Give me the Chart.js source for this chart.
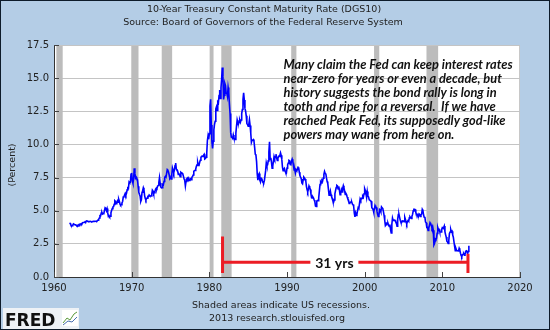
<!DOCTYPE html>
<html>
<head>
<meta charset="utf-8">
<title>10-Year Treasury Constant Maturity Rate</title>
<script src="https://cdn.jsdelivr.net/npm/chart.js@4.4.1/dist/chart.umd.min.js"></script>
<style>
  html, body { margin: 0; padding: 0; background: #b4cde6; }
  canvas { display: block; }
</style>
</head>
<body>
<canvas id="dgs10" width="550" height="330"></canvas>
<script>
// monthly 10-year yields, each array starts in January of its first year
const firstYear = 1962;
const rates1960s = [ // 1962-1969
  4.08,4.04,3.93,3.84,3.87,3.91,4.01,3.98,3.98,3.93,3.92,3.86,
  3.83,3.92,3.93,3.97,3.93,3.99,4.02,4.00,4.08,4.11,4.12,4.13,
  4.17,4.15,4.22,4.23,4.20,4.17,4.19,4.19,4.20,4.19,4.15,4.18,
  4.19,4.21,4.21,4.20,4.21,4.21,4.20,4.25,4.29,4.35,4.45,4.62,
  4.61,4.83,4.87,4.75,4.78,4.81,5.02,5.22,5.18,5.01,5.16,4.84,
  4.58,4.63,4.54,4.59,4.85,5.02,5.16,5.28,5.30,5.48,5.75,5.70,
  5.53,5.56,5.74,5.64,5.87,5.72,5.50,5.42,5.46,5.58,5.70,6.03,
  6.04,6.19,6.30,6.17,6.32,6.57,6.72,6.69,7.16,7.10,7.14,7.75
];
const rates1970s = [
  7.85,7.24,7.07,7.39,8.20,7.84,7.46,7.53,7.39,7.33,6.84,6.39,
  6.24,6.11,5.70,5.83,6.39,6.52,6.73,6.58,6.14,5.93,5.81,5.93,
  5.95,6.08,6.07,6.19,6.13,6.11,6.11,6.21,6.55,6.48,6.28,6.36,
  6.46,6.64,6.71,6.67,6.85,6.90,7.13,7.50,7.09,6.79,6.73,6.74,
  6.99,6.96,7.21,7.51,7.58,7.54,7.81,8.10,8.04,7.90,7.68,7.43,
  7.50,7.39,7.73,8.23,8.06,7.86,8.06,8.40,8.60,8.14,8.05,8.00,
  7.74,7.79,7.73,7.56,7.90,7.86,7.83,7.77,7.59,7.41,7.29,6.87,
  7.21,7.39,7.46,7.37,7.46,7.28,7.33,7.40,7.34,7.52,7.58,7.69,
  7.96,8.03,8.04,8.15,8.35,8.46,8.64,8.41,8.42,8.64,8.81,9.01,
  9.10,9.10,9.12,9.18,9.25,8.91,8.95,9.03,9.33,10.30,10.65,10.39
];
const rates1980s = [
  10.80,12.90,13.40,11.47,10.18,9.70,10.25,11.10,11.51,11.75,12.68,12.84,
  12.57,13.19,13.12,13.68,14.10,13.47,14.28,14.94,15.80,15.15,13.39,13.72,
  14.59,14.43,13.86,13.87,13.62,14.30,13.95,13.06,12.34,10.91,10.55,10.54,
  10.46,10.72,10.51,10.40,10.38,10.85,11.38,11.85,11.65,11.54,11.69,11.83,
  11.67,11.84,12.32,12.63,13.41,13.90,13.36,12.72,12.52,12.16,11.57,11.50,
  11.38,11.51,11.86,11.43,10.85,10.16,10.31,10.33,10.37,10.24,9.78,9.26,
  9.19,8.70,7.78,7.30,7.71,7.80,7.30,7.17,7.45,7.43,7.25,7.11,
  7.08,7.25,7.25,8.02,8.61,8.40,8.45,8.76,9.42,10.20,8.86,8.99,
  8.67,8.21,8.37,8.72,9.09,8.92,9.06,9.26,8.98,8.80,8.96,9.11,
  9.09,9.17,9.36,9.18,8.86,8.28,8.02,8.11,8.19,8.01,7.87,7.84
];
const rates1990s = [
  8.21,8.47,8.59,8.79,8.76,8.48,8.47,8.75,8.89,8.72,8.39,8.08,
  8.09,7.85,8.11,8.04,8.07,8.28,8.27,7.90,7.65,7.53,7.42,7.09,
  7.03,7.34,7.54,7.48,7.39,7.26,6.84,6.59,6.42,6.59,6.87,6.77,
  6.60,6.26,5.98,5.97,6.04,5.96,5.81,5.68,5.36,5.33,5.72,5.77,
  5.75,5.97,6.48,6.97,7.18,7.10,7.30,7.24,7.46,7.74,7.96,7.81,
  7.78,7.47,7.20,7.06,6.63,6.17,6.28,6.49,6.20,6.04,5.93,5.71,
  5.65,5.81,6.27,6.51,6.74,6.91,6.87,6.64,6.83,6.53,6.20,6.30,
  6.58,6.42,6.69,6.89,6.71,6.49,6.22,6.30,6.21,6.03,5.88,5.81,
  5.54,5.57,5.65,5.64,5.65,5.50,5.46,5.34,4.81,4.53,4.83,4.65,
  4.72,5.00,5.23,5.18,5.54,5.90,5.79,5.94,5.92,6.11,6.03,6.28
];
const rates2000s = [
  6.66,6.52,6.26,5.99,6.44,6.10,6.05,5.83,5.80,5.74,5.72,5.24,
  5.16,5.10,4.89,5.14,5.39,5.28,5.24,4.97,4.73,4.57,4.65,5.09,
  5.04,4.91,5.28,5.21,5.16,4.93,4.65,4.26,3.87,3.94,4.05,4.03,
  4.05,3.90,3.81,3.96,3.57,3.33,3.98,4.45,4.27,4.29,4.30,4.27,
  4.15,4.08,3.83,4.35,4.72,4.73,4.50,4.28,4.13,4.10,4.19,4.23,
  4.22,4.17,4.50,4.34,4.14,4.00,4.18,4.26,4.20,4.46,4.54,4.47,
  4.42,4.57,4.72,4.99,5.11,5.11,5.09,4.88,4.72,4.73,4.60,4.56,
  4.76,4.72,4.56,4.69,4.75,5.10,5.00,4.67,4.52,4.53,4.15,4.10,
  3.74,3.74,3.51,3.68,3.88,4.10,4.01,3.89,3.69,3.81,3.53,2.42,
  2.52,2.87,2.82,2.93,3.29,3.72,3.56,3.59,3.40,3.39,3.40,3.59
];
const rates2010s = [ // through mid-2013
  3.73,3.69,3.73,3.85,3.42,3.20,3.01,2.70,2.65,2.54,2.76,3.29,
  3.39,3.58,3.41,3.46,3.17,3.00,3.00,2.30,1.98,2.15,2.01,1.98,
  1.97,1.97,2.17,2.05,1.80,1.62,1.53,1.68,1.72,1.75,1.65,1.72,
  1.91,1.98,1.96,1.76,1.93,2.35
];

// NBER recessions as [start, end] in decimal years
const recessions = [
  [1960.30, 1961.12], [1969.95, 1970.88], [1973.87, 1975.21],
  [1980.04, 1980.54], [1981.54, 1982.87], [1990.54, 1991.21],
  [2001.21, 2001.88], [2007.96, 2009.46]
];

const yTicks = { min: 0, max: 17.5, step: 2.5 };
const xTicks = { min: 1960, max: 2020, step: 10 };

const titleLines = [
  '10-Year Treasury Constant Maturity Rate (DGS10)',
  'Source: Board of Governors of the Federal Reserve System'
];
const footLines = ['Shaded areas indicate US recessions.', '2013 research.stlouisfed.org'];
const noteLines = [
  'Many claim the Fed can keep interest rates',
  'near-zero for years or even a decade, but',
  'history suggests the bond rally is long in',
  'tooth and ripe for a reversal.  If we have',
  'reached Peak Fed, its supposedly god-like',
  'powers may wane from here on.'
];
// span from the 1981 peak to today
const spanStart = 1981.7;
const spanEnd = 2013.3;
const spanLabel = '31 yrs';

const allRates = [].concat(rates1960s, rates1970s, rates1980s, rates1990s, rates2000s, rates2010s);
const points = allRates.map((v, i) => ({ x: firstYear + i / 12, y: v }));

const smallFont = '9.5px "DejaVu Sans"';

const fredFrame = {
  id: 'fredFrame',
  beforeDraw(chart) {
    const { ctx, chartArea: a } = chart;
    ctx.save();
    ctx.fillStyle = '#b4cde6';
    ctx.fillRect(0, 0, chart.width, chart.height);
    ctx.fillStyle = '#ffffff';
    ctx.fillRect(a.left, a.top, a.right - a.left, a.bottom - a.top);
    ctx.strokeStyle = '#c8c8c8';
    ctx.lineWidth = 1;
    ctx.strokeRect(a.left + 0.5, a.top + 0.5, a.right - a.left - 1, a.bottom - a.top);
    ctx.restore();
  },
  beforeDatasetsDraw(chart) {
    const { ctx, chartArea: a, scales: { x, y } } = chart;
    ctx.save();
    ctx.fillStyle = '#bcbcbc';
    for (const [s, e] of recessions) {
      const x0 = x.getPixelForValue(s), x1 = x.getPixelForValue(e);
      ctx.fillRect(x0, a.top + 1, x1 - x0, a.bottom - a.top - 1);
    }
    // tick marks point into the plot on both axes
    ctx.strokeStyle = '#444';
    ctx.lineWidth = 1;
    ctx.beginPath();
    for (let v = xTicks.min; v <= xTicks.max; v += xTicks.step) {
      const px = Math.round(x.getPixelForValue(v)) + 0.5;
      ctx.moveTo(px, a.bottom);
      ctx.lineTo(px, a.bottom - 5);
    }
    for (let v = yTicks.min; v <= yTicks.max; v += yTicks.step) {
      const py = Math.round(y.getPixelForValue(v)) + 0.5;
      ctx.moveTo(a.left, py);
      ctx.lineTo(a.left + 5, py);
    }
    ctx.stroke();
    ctx.restore();
  },
  afterDatasetsDraw(chart) {
    const { ctx, scales: { x, y } } = chart;
    ctx.save();
    const xl = x.getPixelForValue(spanStart), xr = x.getPixelForValue(spanEnd);
    const ym = y.getPixelForValue(1.12);
    const mid = x.getPixelForValue(1996.1);
    ctx.strokeStyle = '#ec1c24';
    ctx.lineWidth = 3;
    ctx.beginPath();
    ctx.moveTo(xl, y.getPixelForValue(3.05));
    ctx.lineTo(xl, y.getPixelForValue(0.3));
    ctx.moveTo(xr, y.getPixelForValue(1.75));
    ctx.lineTo(xr, y.getPixelForValue(0.3));
    ctx.moveTo(xl, ym);
    ctx.lineTo(mid - 24, ym);
    ctx.moveTo(mid + 24, ym);
    ctx.lineTo(xr, ym);
    ctx.stroke();

    ctx.fillStyle = '#111';
    ctx.font = 'bold 14px Lato';
    ctx.textAlign = 'center';
    ctx.textBaseline = 'middle';
    ctx.fillText(spanLabel, mid, ym + 1);

    ctx.font = 'italic bold 12.8px Lato';
    ctx.textAlign = 'left';
    const tx = x.getPixelForValue(1989.55);
    noteLines.forEach((line, i) => ctx.fillText(line, tx, 65 + i * 14));
    ctx.restore();
  },
  afterDraw(chart) {
    const { ctx } = chart;
    ctx.save();
    ctx.fillStyle = '#222';
    ctx.textAlign = 'center';
    ctx.textBaseline = 'middle';
    ctx.font = smallFont;
    ctx.fillText(titleLines[0], 264, 10);
    ctx.fillText(titleLines[1], 263, 23);
    ctx.fillText(footLines[0], 281, 306);
    ctx.fillText(footLines[1], 277, 319);

    ctx.translate(13, 165);
    ctx.rotate(-Math.PI / 2);
    ctx.fillText('(Percent)', 0, 0);
    ctx.setTransform(1, 0, 0, 1, 0, 0);

    // FRED mark in the corner
    ctx.fillStyle = '#eef2f6';
    ctx.fillRect(3, 308, 76, 22);
    ctx.fillStyle = '#111';
    ctx.textAlign = 'left';
    ctx.textBaseline = 'alphabetic';
    ctx.font = 'bold 17px "DejaVu Sans"';
    ctx.fillText('FRED', 5, 326);
    ctx.fillStyle = '#ffffff';
    ctx.fillRect(62, 310, 16, 16);
    ctx.strokeStyle = '#5a9a3a';
    ctx.lineWidth = 1;
    ctx.beginPath();
    ctx.moveTo(63, 323); ctx.lineTo(67, 318); ctx.lineTo(70, 320); ctx.lineTo(74, 314); ctx.lineTo(77, 312);
    ctx.stroke();
    ctx.strokeStyle = '#4a6fb0';
    ctx.beginPath();
    ctx.moveTo(63, 325); ctx.lineTo(68, 321); ctx.lineTo(72, 322); ctx.lineTo(77, 317);
    ctx.stroke();

    ctx.strokeStyle = '#0d1b2a';
    ctx.strokeRect(0.5, 0.5, chart.width - 1, chart.height - 1);
    ctx.restore();
  }
};

new Chart(document.getElementById('dgs10'), {
  type: 'line',
  data: {
    datasets: [{
      label: 'DGS10',
      data: points,
      borderColor: '#0000ff',
      borderWidth: 1.6,
      pointRadius: 0,
      tension: 0,
      fill: false
    }]
  },
  options: {
    responsive: false,
    animation: false,
    layout: { padding: { left: 0, right: 30, top: 45, bottom: 31 } },
    plugins: { legend: { display: false }, tooltip: { enabled: false }, title: { display: false } },
    scales: {
      x: {
        type: 'linear',
        min: xTicks.min,
        max: xTicks.max,
        afterFit: s => { s.height = 22; },
        grid: { display: false, drawTicks: false },
        border: { display: true, color: '#333', width: 1 },
        ticks: {
          stepSize: xTicks.step,
          padding: 5,
          color: '#222',
          font: { family: 'DejaVu Sans', size: 10 },
          maxRotation: 0,
          callback: v => String(v)
        }
      },
      y: {
        min: yTicks.min,
        max: yTicks.max,
        afterFit: s => { s.width = 54; },
        grid: { color: '#c4c4c4', drawTicks: false },
        border: { display: true, color: '#333', width: 1 },
        ticks: {
          stepSize: yTicks.step,
          padding: 5,
          color: '#222',
          font: { family: 'DejaVu Sans', size: 10 },
          callback: v => v.toFixed(1)
        }
      }
    }
  },
  plugins: [fredFrame]
});
</script>
</body>
</html>
